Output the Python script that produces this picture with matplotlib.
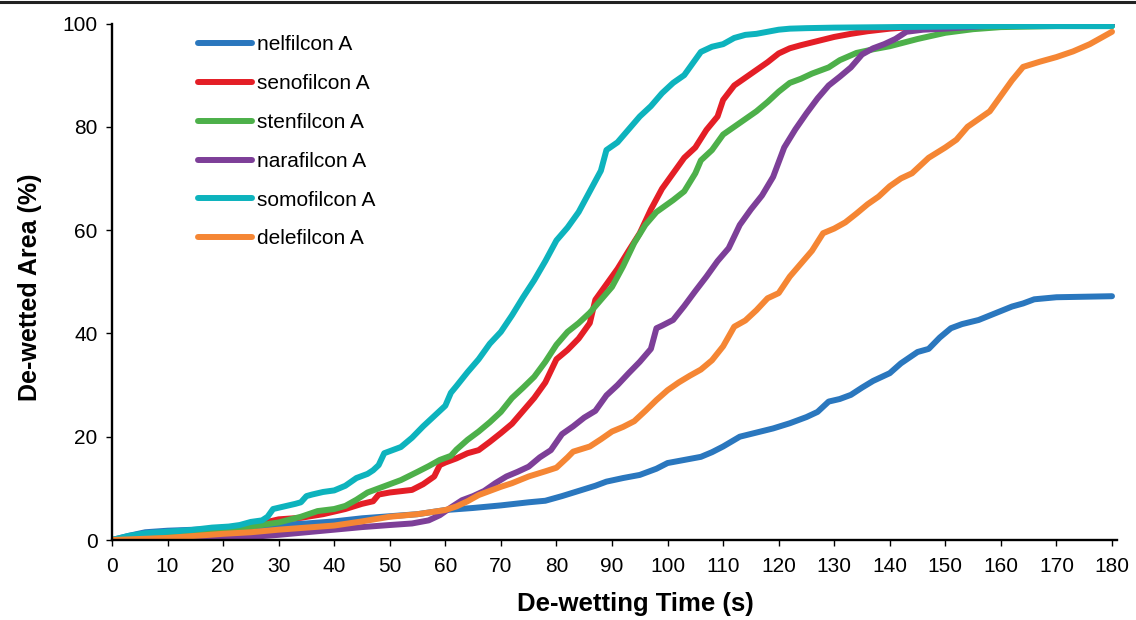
import numpy as np
import matplotlib
matplotlib.use("Agg")
import matplotlib.pyplot as plt
from matplotlib.lines import Line2D

plt.rcParams['font.family'] = ['Liberation Sans', 'DejaVu Sans']

# De-wetting curves (time in s, de-wetted area in %)
nel_t = [0, 3, 6, 10, 15, 20, 25, 30, 35, 40, 45, 50, 55, 60, 65, 70, 75, 78, 81, 84, 87, 89, 92, 95, 98,
         100, 103, 106, 108, 110, 113, 116, 119, 122, 125, 127, 129, 131, 133, 135, 137, 140, 142, 145, 147,
         149, 151, 153, 156, 159, 162, 164, 166, 168, 170, 175, 180]
nel_v = [0, 0.8, 1.5, 1.8, 2.0, 2.3, 2.5, 2.9, 3.2, 3.6, 4.2, 4.6, 5.0, 5.8, 6.2, 6.7, 7.3, 7.6, 8.5, 9.5,
         10.5, 11.3, 12.0, 12.6, 13.8, 14.9, 15.5, 16.1, 17.0, 18.1, 20.0, 20.8, 21.6, 22.6, 23.8, 24.8, 26.8,
         27.3, 28.1, 29.5, 30.8, 32.3, 34.2, 36.4, 37.0, 39.2, 41.0, 41.8, 42.6, 43.9, 45.2, 45.8, 46.6, 46.8,
         47.0, 47.1, 47.2]

seno_t = [0, 5, 10, 15, 20, 25, 28, 30, 34, 38, 42, 45, 47, 48, 50, 54, 56, 58, 59, 60, 62, 64, 66, 68, 70,
          72, 74, 76, 78, 80, 82, 84, 86, 87, 89, 91, 93, 95, 97, 99, 101, 103, 105, 107, 109, 110, 112, 114,
          116, 118, 120, 122, 124, 127, 130, 133, 136, 140, 145, 150, 157, 165, 180]
seno_v = [0, 0.3, 0.6, 1.0, 1.8, 2.5, 3.5, 4.0, 4.3, 5.0, 6.0, 7.0, 7.5, 8.8, 9.2, 9.7, 10.8, 12.3, 14.5,
          15.0, 15.8, 16.8, 17.4, 19.0, 20.7, 22.5, 25.0, 27.5, 30.5, 35.0, 36.8, 39.0, 42.0, 46.5, 49.5, 52.5,
          56.0, 59.4, 64.0, 68.0, 71.0, 74.0, 76.0, 79.4, 82.0, 85.2, 88.0, 89.5, 91.0, 92.5, 94.2, 95.2, 95.8,
          96.6, 97.4, 98.0, 98.5, 99.0, 99.4, 99.7, 100, 100, 100]

sten_t = [0, 5, 10, 15, 20, 25, 30, 34, 37, 40, 42, 44, 46, 48, 50, 52, 55, 57, 59, 61, 62, 64, 66, 68, 70,
          72, 74, 76, 78, 80, 82, 84, 86, 88, 90, 92, 94, 96, 98, 101, 103, 105, 106, 108, 110, 112, 114, 116,
          118, 120, 122, 124, 126, 129, 131, 134, 137, 140, 145, 150, 155, 160, 170, 180]
sten_v = [0, 0.4, 0.8, 1.3, 1.8, 2.6, 3.4, 4.5, 5.6, 6.0, 6.6, 7.8, 9.2, 10.0, 10.8, 11.6, 13.2, 14.3, 15.5,
          16.3, 17.5, 19.4, 21.0, 22.8, 24.8, 27.5, 29.5, 31.6, 34.5, 37.8, 40.3, 42.0, 44.0, 46.5, 49.0, 53.0,
          57.5, 61.0, 63.5, 65.8, 67.5, 71.0, 73.5, 75.5, 78.5, 80.0, 81.5, 83.0, 84.8, 86.8, 88.5, 89.3, 90.3,
          91.5, 92.9, 94.3, 95.0, 95.6, 97.0, 98.2, 98.9, 99.3, 99.5, 99.5]

nara_t = [0, 10, 15, 20, 25, 30, 35, 40, 45, 50, 54, 57, 59, 61, 63, 65, 67, 69, 71, 73, 75, 77, 79, 81, 83,
          85, 87, 89, 91, 93, 95, 97, 98, 99, 101, 103, 105, 107, 109, 111, 113, 115, 117, 119, 121, 123, 125,
          127, 129, 131, 133, 135, 137, 139, 141, 143, 146, 150, 160, 170, 180]
nara_v = [0, 0, 0.1, 0.3, 0.6, 1.0, 1.5, 2.0, 2.5, 2.9, 3.2, 3.8, 4.8, 6.3, 7.7, 8.5, 9.5, 11.0, 12.3, 13.2,
          14.2, 16.0, 17.4, 20.5, 22.0, 23.7, 25.0, 28.0, 30.0, 32.3, 34.5, 37.0, 41.0, 41.5, 42.6, 45.3, 48.2,
          51.0, 54.0, 56.5, 61.0, 64.0, 66.7, 70.3, 76.0, 79.5, 82.6, 85.5, 88.0, 89.7, 91.5, 94.0, 95.2, 96.0,
          97.0, 98.4, 98.8, 99.0, 99.7, 100, 100]

somo_t = [0, 3, 6, 10, 14, 18, 21, 23, 25, 27, 28, 29, 31, 33, 34, 35, 36, 38, 40, 42, 44, 46, 47, 48, 49,
          50, 52, 54, 56, 58, 60, 61, 62, 64, 66, 68, 70, 72, 74, 76, 78, 80, 82, 84, 86, 88, 89, 91, 93, 95,
          97, 99, 101, 103, 105, 106, 108, 110, 112, 114, 116, 118, 120, 122, 125, 130, 140, 150, 160, 170, 180]
somo_v = [0, 0.8, 1.3, 1.6, 1.9, 2.4, 2.6, 2.9, 3.5, 3.8, 4.5, 6.0, 6.5, 7.0, 7.3, 8.5, 8.8, 9.3, 9.6, 10.5,
          12.0, 12.8, 13.5, 14.5, 16.8, 17.2, 18.0, 19.8, 22.0, 24.0, 26.0, 28.5, 29.8, 32.5, 35.0, 38.0, 40.3,
          43.5, 47.0, 50.3, 54.0, 58.0, 60.5, 63.5, 67.5, 71.5, 75.5, 77.0, 79.5, 82.0, 84.0, 86.5, 88.5, 90.0,
          93.0, 94.5, 95.5, 96.0, 97.2, 97.8, 98.0, 98.4, 98.8, 99.0, 99.1, 99.2, 99.3, 99.4, 99.5, 99.5, 99.5]

dele_t = [0, 5, 10, 15, 20, 25, 30, 35, 40, 45, 50, 55, 60, 62, 64, 66, 68, 70, 72, 75, 78, 80, 82, 83, 86,
          88, 90, 92, 94, 96, 98, 100, 102, 104, 106, 108, 110, 112, 114, 116, 118, 120, 122, 124, 126, 128,
          130, 132, 134, 136, 138, 140, 142, 144, 147, 150, 152, 154, 156, 158, 160, 162, 164, 167, 170, 173,
          176, 178, 180]
dele_v = [0, 0.2, 0.4, 0.8, 1.2, 1.5, 2.0, 2.4, 2.8, 3.6, 4.5, 5.0, 5.8, 6.5, 7.5, 8.7, 9.5, 10.3, 11.0, 12.3,
          13.3, 14.0, 16.0, 17.1, 18.1, 19.5, 21.0, 21.9, 23.0, 25.0, 27.1, 29.0, 30.5, 31.8, 33.0, 34.8, 37.5,
          41.3, 42.5, 44.5, 46.8, 47.8, 51.0, 53.5, 56.0, 59.4, 60.3, 61.5, 63.2, 65.0, 66.5, 68.5, 70.0, 71.0,
          74.0, 76.0, 77.5, 80.0, 81.5, 83.0, 86.0, 89.0, 91.6, 92.6, 93.5, 94.6, 96.0, 97.2, 98.4]

names = ["nelfilcon A", "senofilcon A", "stenfilcon A", "narafilcon A", "somofilcon A", "delefilcon A"]
colors = ["#2A77BE", "#E41E26", "#4DB04A", "#7D3F98", "#0DB3BD", "#F58634"]
series = [(nel_t, nel_v), (seno_t, seno_v), (sten_t, sten_v), (nara_t, nara_v), (somo_t, somo_v), (dele_t, dele_v)]

fig = plt.figure(figsize=(11.36, 6.2), dpi=100)
ax = fig.add_axes([112/1136, 1 - 540/620, 1005/1136, 516.5/620])

for (t, v), name, col in zip(series, names, colors):
    ax.plot(t, v, color=col, lw=4.3, label=name, solid_capstyle="round", solid_joinstyle="round")

ax.set_xlim(0, 180.9)
ax.set_ylim(0, 100)
ax.set_xticks(np.arange(0, 181, 10))
ax.set_yticks(np.arange(0, 101, 20))
for s in ["top", "right"]:
    ax.spines[s].set_visible(False)
for s in ["left", "bottom"]:
    ax.spines[s].set_linewidth(1.7)
ax.tick_params(direction="out", length=4.5, width=1, labelsize=15, colors="black")
ax.tick_params(axis="x", pad=8)
ax.tick_params(axis="y", pad=6)

ax.set_xlabel("De-wetting Time (s)", fontsize=18.5, fontweight="bold")
ax.set_ylabel("De-wetted Area (%)", fontsize=18, fontweight="bold")
ax.xaxis.set_label_coords(0.521, -0.1)
ax.yaxis.set_label_coords(-0.07, 0.489)

leg = ax.legend(loc="upper left", bbox_to_anchor=(198/1136, 1 - 35.5/620), bbox_transform=fig.transFigure,
                frameon=False, fontsize=15, handlelength=2.6, handletextpad=0.25, labelspacing=0.95,
                borderpad=0, borderaxespad=0)

# thin rule across the top edge
fig.add_artist(Line2D([0, 1], [1 - 1.5/620, 1 - 1.5/620], transform=fig.transFigure, color="#222222", lw=2.2))

fig.savefig("out.png", dpi=100)
